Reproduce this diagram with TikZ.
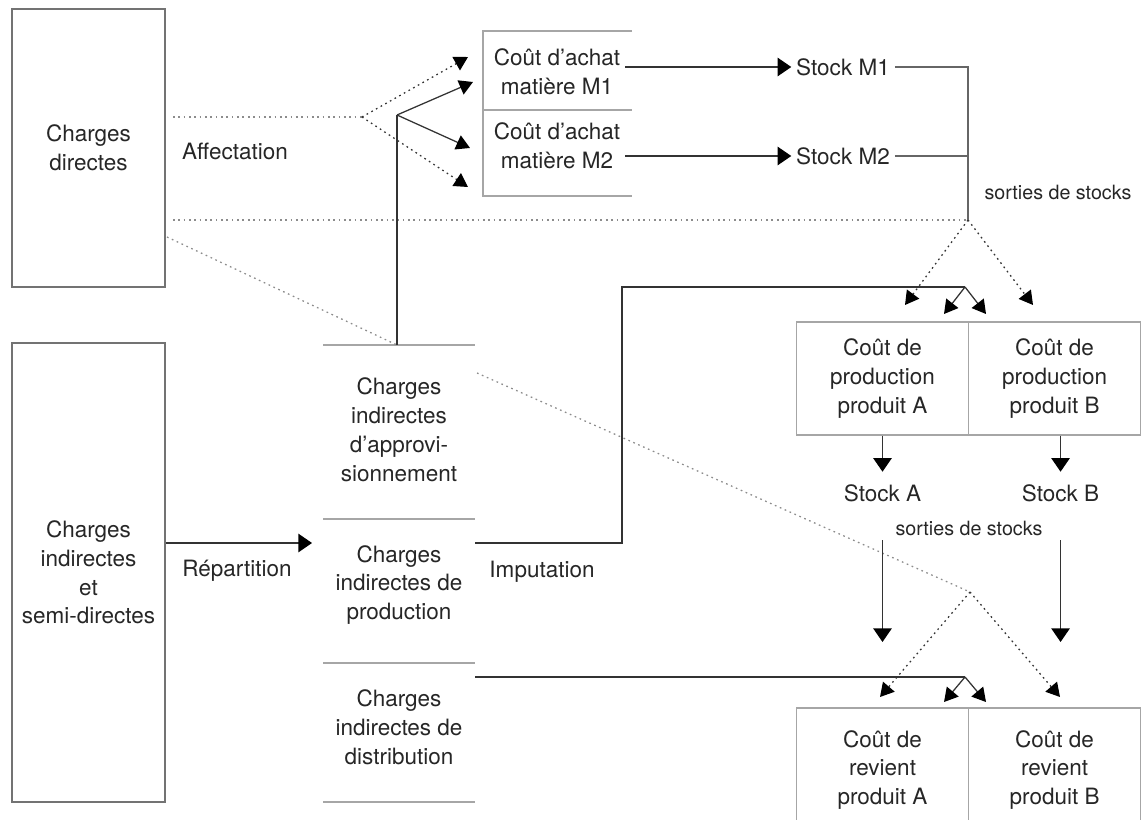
\documentclass[tikz,border=0pt]{standalone}
\usepackage{fontspec}
\setmainfont{TeX Gyre Heros}
\usetikzlibrary{arrows.meta, positioning}
\tikzstyle{charge-box}=[
draw=black!55,
line width=1.2pt,
minimum width=3.825cm,
align=center,
inner sep=0pt,
]
\tikzstyle{cost-box}=[
draw=black!35,
line width=1pt,
minimum width=4.3cm,
minimum height=2.825cm,
align=center,
]
\tikzstyle{small-text}=[
font=\fontsize{14}{16}\selectfont,
]
\tikzstyle{flow}=[
-{Triangle[length=0.34cm,width=0.46cm,color=black]},
line width=0.9pt,
black!80,
]
\tikzstyle{fork}=[
-{Triangle[length=0.34cm,width=0.38cm,color=black]},
line width=0.9pt,
black!80,
]
\tikzstyle{dotline}=[
black!45,
line width=0.9pt,
dash pattern=on 1.2pt off 2.6pt,
]
\tikzstyle{rule}=[
black!35,
line width=1pt,
]

\begin{document}
\begin{tikzpicture}[x=0.025cm, y=-0.025cm, font=\fontsize{16}{20.5}\selectfont, text=black!85]
        \newcommand{\forkarrows}[4]
        {
          \draw[#1] (#2) -- (#3);
          \draw[#1] (#2) -- (#4);
        }
        \useasboundingbox (0,0) rectangle (1143,820);

        % left column
        \node[charge-box, minimum height=6.95cm] (directes) at (88.5,148) {Charges\\directes};
        \node[charge-box, minimum height=11.475cm] (indirectes) at (88.5,572.5) {Charges\\indirectes\\et\\semi-directes};
        \node (affectation) at (235,151) {Affectation};
        \node (repartition) at (237,571) {Répartition};

        % middle column
        \node[align=center] (appro) at (399,430) {Charges\\indirectes\\d'approvi-\\sionnement};
        \node[align=center] (prod) at (399,585) {Charges\\indirectes de\\production};
        \node[align=center] (distr) at (399,727) {Charges\\indirectes de\\distribution};
        \foreach \y in {345,519,663,802}
          \draw[rule] (323,\y) -- (475,\y);
        \node (imputation) at (542,572) {Imputation};

        % purchase costs and raw material stocks
        \node[align=center] (achatM1) at (557,72) {Coût d'achat\\matière M1};
        \node[align=center] (achatM2) at (557,146) {Coût d'achat\\matière M2};
        \draw[rule] (632,31) -- (483,31) -- (483,196) -- (632,196);
        \draw[rule] (483,110) -- (632,110);
        \node (stockM1) at (843,67) {Stock M1};
        \node (stockM2) at (843,156) {Stock M2};
        \node[small-text] (sortiesM) at (1058,192) {sorties de stocks};

        % products
        \node[cost-box] (prodA) at (882.5,378.5) {Coût de\\production\\produit A};
        \node[cost-box, right=-1pt of prodA] (prodB) {Coût de\\production\\produit B};
        \node[below=1.1cm of prodA] (stockA) {Stock A};
        \node[below=1.1cm of prodB, xshift=0.15cm] (stockB) {Stock B};
        \node[small-text] (sortiesP) at (969,528) {sorties de stocks};
        \node[cost-box, minimum height=3.1cm] (revA) at (882.5,770) {Coût de\\revient\\produit A};
        \node[cost-box, minimum height=3.1cm, right=-1pt of revA] (revB) {Coût de\\revient\\produit B};

        % coordinates
        \coordinate (repEnd) at (312,543);
        \coordinate (approTop) at (397,345);
        \coordinate (approSplit) at (397,115);
        \coordinate (affStart) at (173,117);
        \coordinate (affSplit) at (362,117);
        \coordinate (lineStart) at (173,220);
        \coordinate (exitM) at (968,220);
        \coordinate (diagStart) at (167,237);
        \coordinate (diagResume) at (477,373);
        \coordinate (diagPeak) at (970,592);
        \coordinate (prodR) at (475,543);
        \coordinate (imputTurn) at (622,287);
        \coordinate (imputEnd) at (965,287);
        \coordinate (distrR) at (475,677);
        \coordinate (distrEnd) at (965,677);
        \coordinate (inA) at (stockA |- 0,642);
        \coordinate (inB) at (stockB |- 0,642);

        % dotted links
        \draw[dotline] (affStart) -- (affSplit);
        \forkarrows{dotline, fork}{affSplit}{468,57}{468,187}
        \draw[dotline] (lineStart) -- (exitM);
        \forkarrows{dotline, fork}{exitM}{905,305}{1033,305}
        \draw[dotline] (diagStart) -- (approTop);
        \draw[dotline] (diagResume) -- (diagPeak);
        \forkarrows{dotline, fork}{diagPeak}{880,697}{1060,697}

        % solid links
        \draw[flow] (indirectes.east |- repEnd) -- (repEnd);
        \draw[line width=0.9pt, black!80] (approTop) -- (approSplit);
        \forkarrows{fork}{approSplit}{473,82}{470,148}
        \draw[flow] (achatM1.east |- stockM1) -- (stockM1.west);
        \draw[flow] (achatM2.east |- stockM2) -- (stockM2.west);
        \draw[line width=0.9pt, black!60] (stockM1.east) -| (exitM);
        \draw[line width=0.9pt, black!60] (stockM2.east) -- (stockM2.east -| exitM);
        \draw[line width=0.9pt, black!80] (prodR) -| (imputTurn) -- (imputEnd);
        \forkarrows{fork}{imputEnd}{944,314}{986,314}
        \draw[line width=0.9pt, black!80] (distrR) -- (distrEnd);
        \forkarrows{fork}{distrEnd}{944,702}{986,702}
        \draw[flow, shorten >=0.2cm] (prodA.south -| stockA) -- (stockA.north);
        \draw[flow, shorten >=0.2cm] (prodB.south -| stockB) -- (stockB.north);
        \draw[flow] (stockA |- sortiesP.south) -- (inA);
        \draw[flow] (stockB |- sortiesP.south) -- (inB);
      \end{tikzpicture}
\end{document}
